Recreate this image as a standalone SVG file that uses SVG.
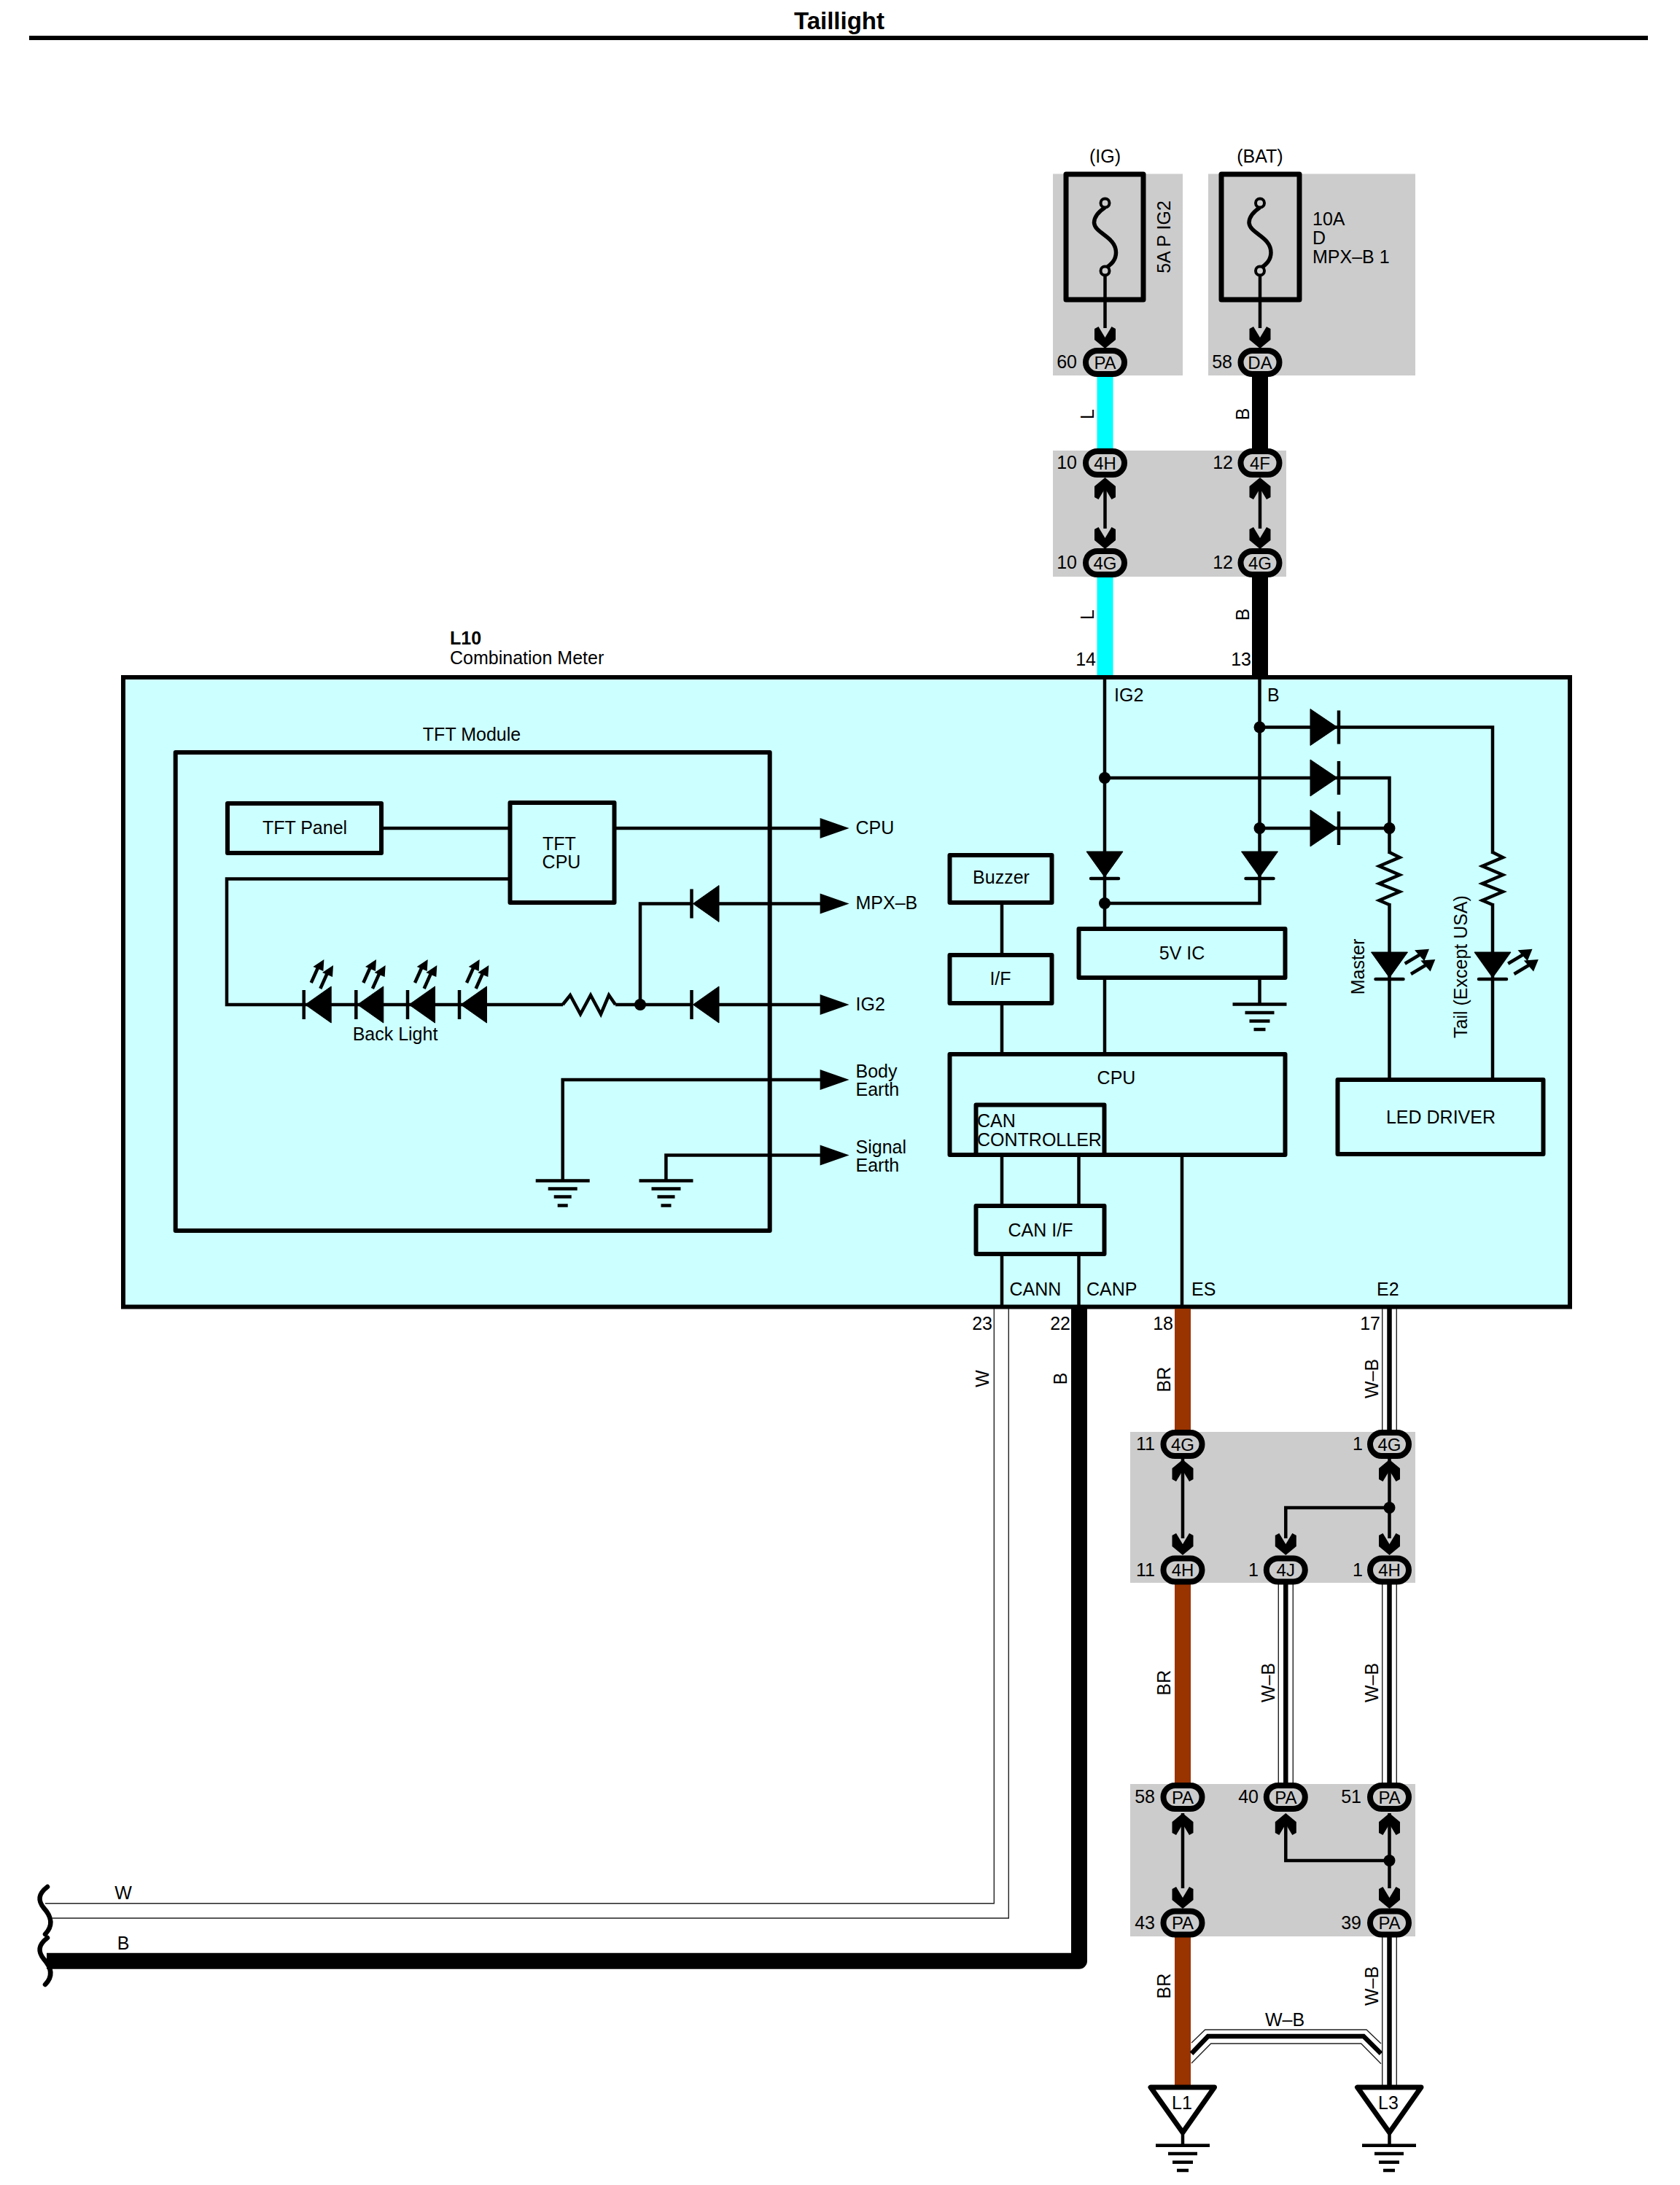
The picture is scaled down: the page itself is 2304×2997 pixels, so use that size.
<svg xmlns="http://www.w3.org/2000/svg" xmlns:xlink="http://www.w3.org/1999/xlink" width="2304" height="2997" viewBox="0 0 2304 2997">
<style>
text{font-family:"Liberation Sans",Arial,sans-serif;font-size:25px;fill:#000}
.c{text-anchor:middle}
.r{text-anchor:end}
.b{font-weight:bold}
.p{font-size:24px;text-anchor:middle}
.shade{fill:#ccc}
.box{fill:none;stroke:#000;stroke-width:6;stroke-linejoin:round}
.fb{fill:none;stroke:#000;stroke-width:7;stroke-linejoin:round}
.w{fill:none;stroke:#000;stroke-width:4.500}
.thin{fill:none;stroke:#222;stroke-width:1.400}
.wb{fill:none;stroke:#000;stroke-width:6.500}
.bk{fill:none;stroke:#000;stroke-width:22;stroke-linejoin:round}
.cy{fill:none;stroke:#0ff;stroke-width:22}
.br{fill:none;stroke:#930;stroke-width:22}
.gnd{stroke:#000;stroke-width:4.500;fill:none}
</style>
<defs>
<g id="plug"><rect x="-26.500" y="-16" width="53" height="32" rx="16" fill="#ccc" stroke="#000" stroke-width="8"/></g>
<polygon id="chev" points="0,0 -14.500,-12 -14.500,-27 -9,-30 0,-15 9,-30 14.500,-27 14.500,-12"/>
<polygon id="tri" points="0,-14 40,0 0,14"/>
<g id="dot"><circle r="8"/></g>
<g id="diodeL"><polygon points="2,0 37.500,-25 37.500,25" stroke="#000" stroke-width="1" stroke-linejoin="round"/><path d="M0,-20V20" stroke="#000" stroke-width="4.500"/></g>
<g id="diodeR"><polygon points="0,0 -37,-25 -37,25" stroke="#000" stroke-width="1" stroke-linejoin="round"/><path d="M2,-23V23" stroke="#000" stroke-width="4.500"/></g>
<g id="diodeD"><polygon points="0,-1 -25,-36 25,-36" stroke="#000" stroke-width="1" stroke-linejoin="round"/><path d="M-19,1H19" stroke="#000" stroke-width="4.500" stroke-linecap="round"/></g>
<g id="ray"><path d="M0,0L9,-20" stroke="#000" stroke-width="4.500"/><polygon points="17.700,-32 2.700,-22 16.700,-16"/></g>
<g id="rayR"><path d="M0,0L20,-12" stroke="#000" stroke-width="4.500"/><polygon points="33.300,-20 13.300,-18.400 26.600,-3.400"/></g>
<path id="resV" d="M0,-2L14,5L-14,17L14,29L-14,41L14,52L-14,64L0,70" fill="none" stroke="#000" stroke-width="4.500"/>
<g id="fuse"><path d="M0,6C-9,12 -15,18 -15,27C-14,42 15,46 15,68C15,78 9,84 0,90" fill="none" stroke="#000" stroke-width="5.500"/><circle cy="0" r="6" fill="#ccc" stroke="#000" stroke-width="4"/><circle cy="93" r="6" fill="#ccc" stroke="#000" stroke-width="4"/></g>
<g id="earth"><path class="gnd" d="M-37,0H37M-20,11H20M-12,22H12M-7,34H7"/></g>
<g id="earth2"><path class="gnd" d="M-37,0H37M-20,11.500H20M-14,23H14M-8,34.500H8"/></g>
</defs>

<rect width="2304" height="2997" fill="#fff"/>

<g id="title"><text x="1151" y="40" class="c b" style="font-size:33px">Taillight</text><path d="M40,52H2260" stroke="#000" stroke-width="6"/></g>

<g id="splice-shading">
<rect class="shade" x="1444" y="238.500" width="178" height="276.500"/>
<rect class="shade" x="1657" y="238.500" width="284" height="276.500"/>
<rect class="shade" x="1444" y="618" width="320" height="173"/>
<rect class="shade" x="1550" y="1964" width="391" height="207"/>
<rect class="shade" x="1550" y="2447" width="391" height="209"/>
</g>

<g id="L10-body"><rect x="169" y="929" width="1984" height="863.500" fill="#cff" stroke="#000" stroke-width="6"/></g>

<g id="connectors">
<path class="cy" d="M1515.500,515V618M1515.500,791V926"/>
<path class="bk" d="M1728,515V618M1728,791V926"/>
<path class="w" d="M1515.500,370V450M1728,370V450M1515.500,660V725M1728,660V725"/>
<path class="thin" d="M1363.300,1795V2610.700H62M1383.300,1795V2631H72"/>
<path class="bk" d="M1480,1795V2689.700H64"/>
<path class="br" d="M1622,1795V1965M1622,2171V2447M1622,2656V2860"/>
<path class="thin" d="M1895.700,1795V1965M1915.300,1795V1965M1895.700,2171V2447M1915.300,2171V2447M1895.700,2656V2860M1915.300,2656V2860M1753.300,2171V2447M1773.300,2171V2447"/>
<path class="wb" d="M1905.500,1795V1965M1905.500,2171V2447M1905.500,2656V2860M1763.300,2171V2447"/>
<path class="w" d="M1622,2000V2110M1622,2487V2590M1905.500,2000V2110M1905.500,2487V2590M1905.500,2068H1763.300V2110M1905.500,2552H1763.300V2490"/>
<path class="thin" d="M1634,2802L1652.700,2784H1874L1894,2803M1634,2830L1660.700,2803H1866.700L1894,2830.700"/>
<path class="wb" d="M1634,2816.700L1656.700,2793H1870L1894,2816.700"/>
<path class="w" d="M1515,929V1271M1515,1343V1445M1727.500,929V1205M1515,1239H1727.500V1205M1727.500,997.500H2047V1171M2047,1239V1480M1515,1067H1905.500V1171M1905.500,1239V1480M1727.500,1136H1905.500"/>
<path class="w" d="M1374,1240V1308M1374,1378V1445M1374,1586V1653M1479.500,1586V1653M1374,1722V1792M1479.500,1722V1792M1621,1586V1792M1727.500,1343V1377"/>
<path class="w" d="M525,1136H700M844,1136H1125M700,1205.600H311V1378H772M844,1378H948M878,1378V1239.500H948M985,1239.500H1125M985,1378H1125M771.700,1619V1481H1125M913.400,1619V1584.500H1125"/>
</g>

<g id="fuse-ig"><rect class="fb" x="1462" y="239" width="106" height="172"/><use href="#fuse" x="1515.500" y="278.500"/><text x="1515.500" y="223" class="c">(IG)</text><text x="1605" y="325" class="c" transform="rotate(-90 1605 325)">5A P IG2</text></g>
<g id="fuse-bat"><rect class="fb" x="1675" y="239" width="107" height="172"/><use href="#fuse" x="1728" y="278.500"/><text x="1728" y="223" class="c">(BAT)</text><text x="1800" y="309">10A</text><text x="1800" y="335">D</text><text x="1800" y="361">MPX–B 1</text></g>

<g id="arrowheads">
<use href="#chev" x="1515.500" y="478"/><use href="#chev" x="1728" y="478"/><use href="#chev" x="1515.500" y="753"/><use href="#chev" x="1728" y="753"/>
<use href="#chev" transform="translate(1515.500 655) rotate(180)"/><use href="#chev" transform="translate(1728 655) rotate(180)"/>
<use href="#chev" transform="translate(1622 2002) rotate(180)"/><use href="#chev" transform="translate(1905.500 2002) rotate(180)"/>
<use href="#chev" x="1622" y="2133"/><use href="#chev" x="1763.300" y="2133"/><use href="#chev" x="1905.500" y="2133"/>
<use href="#chev" transform="translate(1622 2487) rotate(180)"/><use href="#chev" transform="translate(1763.300 2487) rotate(180)"/><use href="#chev" transform="translate(1905.500 2487) rotate(180)"/>
<use href="#chev" x="1622" y="2618"/><use href="#chev" x="1905.500" y="2618"/>
</g>

<g id="conn-top">
<use href="#plug" x="1515.500" y="497"/><text x="1515.500" y="505.500" class="p">PA</text><text x="1477" y="504.500" class="r">60</text>
<use href="#plug" x="1728" y="497"/><text x="1728" y="505.500" class="p">DA</text><text x="1690" y="504.500" class="r">58</text>
<use href="#plug" x="1515.500" y="635"/><text x="1515.500" y="643.500" class="p">4H</text><text x="1477" y="642.500" class="r">10</text>
<use href="#plug" x="1728" y="635"/><text x="1728" y="643.500" class="p">4F</text><text x="1691" y="642.500" class="r">12</text>
<use href="#plug" x="1515.500" y="772"/><text x="1515.500" y="780.500" class="p">4G</text><text x="1477" y="779.500" class="r">10</text>
<use href="#plug" x="1728" y="772"/><text x="1728" y="780.500" class="p">4G</text><text x="1691" y="779.500" class="r">12</text>
</g>

<g id="wire-labels-top">
<text x="1500" y="568" class="c" transform="rotate(-90 1500 568)">L</text>
<text x="1500" y="843" class="c" transform="rotate(-90 1500 843)">L</text>
<text x="1713" y="568" class="c" transform="rotate(-90 1713 568)">B</text>
<text x="1713" y="843" class="c" transform="rotate(-90 1713 843)">B</text>
<text x="1503" y="912.500" class="r">14</text><text x="1716" y="912.500" class="r">13</text>
</g>

<g id="L10-label"><text x="617" y="884" class="b">L10</text><text x="617" y="911">Combination Meter</text></g>

<g id="tft-module">
<rect class="box" x="240.700" y="1032" width="815" height="656"/>
<text x="647" y="1016" class="c">TFT Module</text>
</g>
<g id="tft-panel"><rect class="box" x="312" y="1102" width="211" height="68"/><text x="418" y="1143.500" class="c">TFT Panel</text></g>
<g id="tft-cpu"><rect class="box" x="699.500" y="1101" width="143" height="137"/><text x="767" y="1165.500" class="c">TFT</text><text x="770" y="1190.500" class="c">CPU</text></g>
<g id="back-light">
<use href="#diodeL" x="416.700" y="1378"/><use href="#diodeL" x="488.300" y="1378"/><use href="#diodeL" x="559" y="1378"/><use href="#diodeL" x="630" y="1378"/>
<use href="#ray" x="426.700" y="1348"/><use href="#ray" x="439.300" y="1356"/><use href="#ray" x="498.300" y="1348"/><use href="#ray" x="510.900" y="1356"/><use href="#ray" x="569" y="1348"/><use href="#ray" x="581.600" y="1356"/><use href="#ray" x="640" y="1348"/><use href="#ray" x="652.600" y="1356"/>
<text x="542" y="1426.500" class="c">Back Light</text>
</g>
<g id="tft-resistor"><path class="w" d="M771.700,1378L782,1365L796,1391L810,1365L824,1391L835,1365L844,1378"/><use href="#dot" x="878" y="1378"/></g>
<g id="tft-diodes"><use href="#diodeL" x="948.500" y="1239.500"/><use href="#diodeL" x="948.500" y="1378"/></g>
<g id="tft-grounds"><use href="#earth" x="771.700" y="1619.500"/><use href="#earth" x="913.500" y="1619.500"/></g>
<g id="tft-ports">
<use href="#tri" x="1124.600" y="1136"/><text x="1173.500" y="1143.500">CPU</text>
<use href="#tri" x="1124.600" y="1239.500"/><text x="1173.500" y="1246.500">MPX–B</text>
<use href="#tri" x="1124.600" y="1378"/><text x="1173.500" y="1385.500">IG2</text>
<use href="#tri" x="1124.600" y="1481"/><text x="1173.500" y="1477.500">Body</text><text x="1173.500" y="1502.500">Earth</text>
<use href="#tri" x="1124.600" y="1584.500"/><text x="1173.500" y="1581.500">Signal</text><text x="1173.500" y="1606.500">Earth</text>
</g>

<g id="buzzer"><rect class="box" x="1302.500" y="1173" width="140" height="65"/><text x="1373" y="1212" class="c">Buzzer</text></g>
<g id="if"><rect class="box" x="1302.500" y="1310" width="140" height="66"/><text x="1372" y="1351" class="c">I/F</text></g>
<g id="ic5v"><rect class="box" x="1479.500" y="1274" width="283" height="67"/><text x="1621" y="1316" class="c">5V IC</text><use href="#earth2" x="1727.500" y="1377.500"/></g>
<g id="cpu"><rect class="box" x="1302.500" y="1446" width="460" height="138"/><text x="1531" y="1487" class="c">CPU</text></g>
<g id="can-controller"><rect class="box" x="1338.500" y="1515.500" width="176" height="68.500"/><text x="1340" y="1546">CAN</text><text x="1340" y="1572">CONTROLLER</text></g>
<g id="can-if"><rect class="box" x="1338.500" y="1654" width="176" height="66"/><text x="1427" y="1696" class="c">CAN I/F</text></g>
<g id="led-driver"><rect class="box" x="1834.500" y="1481" width="282" height="102"/><text x="1976" y="1541" class="c">LED DRIVER</text></g>

<g id="meter-diodes">
<use href="#dot" x="1727.500" y="997.500"/><use href="#dot" x="1515" y="1067"/><use href="#dot" x="1727.500" y="1136"/><use href="#dot" x="1905.500" y="1136"/><use href="#dot" x="1515" y="1239"/>
<use href="#diodeR" x="1834" y="997.500"/><use href="#diodeR" x="1834" y="1067"/><use href="#diodeR" x="1834" y="1136"/>
<use href="#diodeD" x="1515" y="1204"/><use href="#diodeD" x="1727.500" y="1204"/>
<use href="#resV" x="1905.500" y="1171"/><use href="#resV" x="2047" y="1171"/>
<use href="#diodeD" x="1905.500" y="1342"/><use href="#diodeD" x="2047" y="1342"/>
<use href="#rayR" x="1926.700" y="1321.700"/><use href="#rayR" x="1935" y="1336"/><use href="#rayR" x="2068.200" y="1321.700"/><use href="#rayR" x="2076.500" y="1336"/>
<text x="1871" y="1326" class="c" transform="rotate(-90 1871 1326)">Master</text>
<text x="2012" y="1326" class="c" transform="rotate(-90 2012 1326)">Tail (Except USA)</text>
</g>

<g id="pin-labels">
<text x="1528" y="962">IG2</text><text x="1738" y="962">B</text>
<text x="1384.500" y="1777">CANN</text><text x="1490" y="1777">CANP</text><text x="1634" y="1777">ES</text><text x="1888" y="1777">E2</text>
<text x="1361" y="1824" class="r">23</text><text x="1468" y="1824" class="r">22</text><text x="1609" y="1824" class="r">18</text><text x="1893" y="1824" class="r">17</text>
</g>

<g id="conn-bottom">
<use href="#plug" x="1622" y="1981"/><text x="1622" y="1989.500" class="p">4G</text><text x="1584" y="1989" class="r">11</text>
<use href="#plug" x="1905.500" y="1981"/><text x="1905.500" y="1989.500" class="p">4G</text><text x="1869" y="1989" class="r">1</text>
<use href="#plug" x="1622" y="2153.500"/><text x="1622" y="2162" class="p">4H</text><text x="1584" y="2161.500" class="r">11</text>
<use href="#plug" x="1763.300" y="2153.500"/><text x="1763.300" y="2162" class="p">4J</text><text x="1726" y="2161.500" class="r">1</text>
<use href="#plug" x="1905.500" y="2153.500"/><text x="1905.500" y="2162" class="p">4H</text><text x="1869" y="2161.500" class="r">1</text>
<use href="#plug" x="1622" y="2465"/><text x="1622" y="2473.500" class="p">PA</text><text x="1584" y="2473" class="r">58</text>
<use href="#plug" x="1763.300" y="2465"/><text x="1763.300" y="2473.500" class="p">PA</text><text x="1726" y="2473" class="r">40</text>
<use href="#plug" x="1905.500" y="2465"/><text x="1905.500" y="2473.500" class="p">PA</text><text x="1867" y="2473" class="r">51</text>
<use href="#plug" x="1622" y="2637.500"/><text x="1622" y="2646" class="p">PA</text><text x="1584" y="2645.500" class="r">43</text>
<use href="#plug" x="1905.500" y="2637.500"/><text x="1905.500" y="2646" class="p">PA</text><text x="1867" y="2645.500" class="r">39</text>
<use href="#dot" x="1905.500" y="2068"/><use href="#dot" x="1905.500" y="2552"/>
</g>

<g id="wire-labels-bottom">
<text x="1356" y="1891" class="c" transform="rotate(-90 1356 1891)">W</text>
<text x="1463" y="1891" class="c" transform="rotate(-90 1463 1891)">B</text>
<text x="1605" y="1892" class="c" transform="rotate(-90 1605 1892)">BR</text>
<text x="1890" y="1891" class="c" transform="rotate(-90 1890 1891)">W–B</text>
<text x="1605" y="2308" class="c" transform="rotate(-90 1605 2308)">BR</text>
<text x="1748" y="2308" class="c" transform="rotate(-90 1748 2308)">W–B</text>
<text x="1890" y="2308" class="c" transform="rotate(-90 1890 2308)">W–B</text>
<text x="1605" y="2724" class="c" transform="rotate(-90 1605 2724)">BR</text>
<text x="1890" y="2724" class="c" transform="rotate(-90 1890 2724)">W–B</text>
<text x="1762" y="2779" class="c">W–B</text>
<text x="169" y="2605" class="c">W</text><text x="169" y="2674" class="c">B</text>
</g>

<g id="break-mark"><path d="M65,2588C52,2598 52,2607 60,2617C70,2628 74,2640 62,2653M65,2658C52,2668 52,2677 60,2687C70,2698 74,2710 62,2722" fill="none" stroke="#000" stroke-width="6.500" stroke-linecap="round"/></g>

<g id="L1"><polygon points="1578,2863 1665.500,2863 1622,2925" fill="#fff" stroke="#000" stroke-width="7" stroke-linejoin="round"/><text x="1621" y="2893" class="c">L1</text><path d="M1622,2925V2943" stroke="#000" stroke-width="4.500"/><path class="gnd" d="M1585,2942.700H1659M1602,2954H1642M1608,2965.700H1636M1614,2977H1630"/></g>
<g id="L3"><polygon points="1861.500,2863 1949,2863 1905.500,2925" fill="#fff" stroke="#000" stroke-width="7" stroke-linejoin="round"/><text x="1904" y="2893" class="c">L3</text><path d="M1905.500,2925V2943" stroke="#000" stroke-width="4.500"/><path class="gnd" d="M1868,2942.700H1942M1885,2954H1925M1891,2965.700H1919M1897,2977H1913"/></g>
</svg>
